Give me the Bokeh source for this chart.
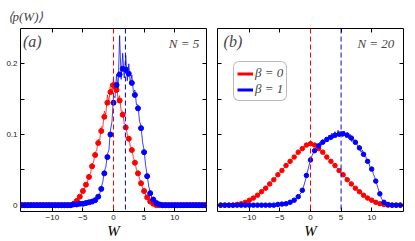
import numpy as np
from bokeh.plotting import figure
from bokeh.layouts import row
from bokeh.models import (FixedTicker, LinearAxis, Range1d, Label, Legend,
                          LegendItem, Span, CustomJSTickFormatter)
from bokeh.embed import file_html
from bokeh.resources import INLINE

# ---------------- data ----------------
# panel (a): N = 5, markers on a 0.5 grid from -15 to 15
W_a = np.arange(-30, 31) * 0.5
red_a = [0, 0, 0, 0, 0, 0, 0, 0, 0, 0, 0, 0, 0, 0, 0, 0, 0,
         0.002, 0.006, 0.012, 0.020, 0.029, 0.040, 0.055, 0.071, 0.088, 0.105,
         0.125, 0.145, 0.160, 0.170, 0.163, 0.148, 0.128, 0.110, 0.094, 0.078,
         0.060, 0.045, 0.031, 0.020, 0.011, 0.005, 0.002,
         0, 0, 0, 0, 0, 0, 0, 0, 0, 0, 0, 0, 0, 0, 0, 0, 0]
blue_a = [0, 0, 0, 0, 0, 0, 0, 0, 0, 0, 0, 0, 0, 0, 0, 0,
          0.000, 0.001, 0.001, 0.002, 0.002, 0.003, 0.004, 0.005, 0.007, 0.012,
          0.023, 0.045, 0.068, 0.100, 0.145, 0.170, 0.185, 0.193, 0.192, 0.186,
          0.173, 0.156, 0.137, 0.109, 0.075, 0.041, 0.017, 0.008, 0.003, 0.001,
          0, 0, 0, 0, 0, 0, 0, 0, 0, 0, 0, 0, 0, 0, 0]

# simulated (noisy) curves, panel (a), 0.25 grid
Wl_red_a = np.arange(-28, 29) * 0.25
line_red_a = [0, 0.001, 0.003, 0.003, 0.007, 0.008, 0.014, 0.015, 0.022, 0.023,
              0.031, 0.033, 0.043, 0.045, 0.058, 0.061, 0.075, 0.077, 0.093, 0.092,
              0.111, 0.110, 0.133, 0.129, 0.156, 0.146, 0.172, 0.158, 0.178, 0.160,
              0.170, 0.150, 0.155, 0.133, 0.133, 0.115, 0.114, 0.099, 0.097, 0.083,
              0.080, 0.067, 0.062, 0.050, 0.046, 0.037, 0.032, 0.024, 0.021, 0.014,
              0.012, 0.007, 0.005, 0.003, 0.002, 0.001, 0]
Wl_blue_a = np.arange(-28, 33) * 0.25
line_blue_a = [0.000, 0.000, 0.001, 0.001, 0.001, 0.001, 0.002, 0.002, 0.002, 0.003,
               0.003, 0.004, 0.004, 0.005, 0.005, 0.006, 0.007, 0.008, 0.013, 0.016,
               0.025, 0.033, 0.048, 0.054, 0.072, 0.078, 0.106, 0.118, 0.155, 0.152,
               0.185, 0.165, 0.240, 0.178, 0.215, 0.180, 0.212, 0.176, 0.200, 0.172,
               0.184, 0.160, 0.163, 0.142, 0.142, 0.119, 0.112, 0.089, 0.078, 0.056,
               0.043, 0.027, 0.018, 0.011, 0.008, 0.005, 0.003, 0.002, 0.001, 0.000,
               0.000]

# panel (b): N = 20, markers on a 2/3 grid
W_b = np.arange(-22, 23) * (2.0 / 3.0)
red_b = [0, 0, 0, 0, 0.001, 0.002, 0.004, 0.007, 0.010, 0.014, 0.019, 0.024,
         0.030, 0.036, 0.043, 0.049, 0.056, 0.062, 0.068, 0.075, 0.080, 0.085,
         0.087,
         0.085, 0.080, 0.075, 0.068, 0.062, 0.056, 0.049, 0.043, 0.036, 0.030,
         0.024, 0.019, 0.014, 0.010, 0.007, 0.004, 0.002, 0.001, 0, 0, 0, 0]
blue_b = [0, 0, 0, 0, 0, 0, 0, 0, 0, 0, 0, 0, 0, 0,
          0.001, 0.0015, 0.002, 0.004, 0.007, 0.012, 0.021, 0.042,
          0.064,
          0.077, 0.084, 0.089, 0.093, 0.096, 0.099, 0.1005, 0.101, 0.099, 0.095,
          0.089, 0.081, 0.072, 0.062, 0.051, 0.034, 0.016, 0.004, 0.001,
          0, 0, 0]
Wl_blue_b = np.arange(-16, 53) * 0.25
line_blue_b = [0.002, 0.003, 0.003, 0.004, 0.005, 0.006, 0.008, 0.010, 0.012, 0.015,
               0.018, 0.023, 0.030, 0.038, 0.047, 0.056, 0.064, 0.070, 0.075, 0.078,
               0.084, 0.081, 0.089, 0.085, 0.093, 0.087, 0.096, 0.090, 0.099, 0.093,
               0.102, 0.095, 0.104, 0.096, 0.106, 0.097, 0.105, 0.097, 0.105, 0.096,
               0.103, 0.094, 0.100, 0.090, 0.096, 0.086, 0.091, 0.081, 0.085, 0.075,
               0.078, 0.068, 0.070, 0.061, 0.061, 0.053, 0.053, 0.045, 0.039, 0.032,
               0.025, 0.018, 0.012, 0.007, 0.004, 0.002, 0.001, 0, 0]

means_a = [0.0, 1.95]
means_b = [0.0, 5.0]
x_ticks = [-10, -5, 0, 5, 10]
y_ticks = [0, 0.1, 0.2]
y_minor = [0.05, 0.15]
RED = "#ff0000"
BLUE = "#0000ff"
SERIF = "Liberation Serif"
SANS = "Liberation Sans"

blank = CustomJSTickFormatter(code="return '';")


def style(p, show_ylabels):
    p.below[0].ticker = FixedTicker(ticks=x_ticks, minor_ticks=[])
    p.left[0].ticker = FixedTicker(ticks=y_ticks, minor_ticks=y_minor)
    p.add_layout(LinearAxis(ticker=FixedTicker(ticks=x_ticks, minor_ticks=[]),
                            formatter=blank), "above")
    p.add_layout(LinearAxis(ticker=FixedTicker(ticks=y_ticks, minor_ticks=y_minor),
                            formatter=blank), "right")
    for ax in p.axis:
        ax.axis_line_color = None
        ax.major_tick_in = 4
        ax.major_tick_out = 0
        ax.minor_tick_in = 4
        ax.minor_tick_out = 0
        ax.major_tick_line_color = "black"
        ax.minor_tick_line_color = "black"
        ax.major_label_text_font = SANS
        ax.major_label_text_font_size = "8px"
        ax.major_label_text_color = "#222222"
        ax.major_label_standoff = 3
    for ax in p.above + p.right:
        ax.major_label_standoff = 0
    if not show_ylabels:
        p.left[0].formatter = blank
        p.left[0].major_label_standoff = 0
    xb = p.below[0]
    xb.axis_label = "W"
    xb.axis_label_text_font = SERIF
    xb.axis_label_text_font_style = "italic"
    xb.axis_label_text_font_size = "15px"
    xb.axis_label_standoff = 0
    xb.axis_label_text_color = "black"
    p.xgrid.visible = False
    p.ygrid.visible = False
    p.outline_line_color = "black"
    p.outline_line_width = 1
    p.outline_line_alpha = 1


common = dict(output_backend="svg", toolbar_location=None, height=241,
              min_border_top=28, min_border_bottom=2)

# ---------------- panel (a) ----------------
pa = figure(width=211, min_border_left=20, min_border_right=5,
            x_range=Range1d(-15.2, 15.2), y_range=Range1d(-0.009, 0.25),
            title="⟨p(W)⟩", **common)
pa.title.text_font = SERIF
pa.title.text_font_style = "italic"
pa.title.text_font_size = "13px"
pa.title.align = "left"
pa.title.offset = -13
pa.title.standoff = 9
style(pa, True)

pa.line(Wl_red_a, line_red_a, color=RED, line_width=1, alpha=0.75)
pa.line(Wl_blue_a, line_blue_a, color=BLUE, line_width=1, alpha=0.75)
pa.scatter(W_a, red_a, size=5, color=RED)
pa.scatter(W_a, blue_a, size=5, color=BLUE)
pa.add_layout(Span(location=means_a[0], dimension="height", line_color=RED,
                   line_dash="5 3", line_width=1))
pa.add_layout(Span(location=means_a[1], dimension="height", line_color=BLUE,
                   line_dash="5 3", line_width=1))
pa.add_layout(Label(x=-14.8, y=0.243, text="(a)", text_font=SERIF,
                    text_font_style="italic", text_font_size="16px",
                    text_baseline="top", text_align="left"))
pa.add_layout(Label(x=14.0, y=0.239, text="N = 5", text_font=SERIF,
                    text_font_style="italic", text_font_size="13px",
                    text_baseline="top", text_align="right"))

# ---------------- panel (b) ----------------
pb = figure(width=200, min_border_left=6, min_border_right=8,
            x_range=Range1d(-15.2, 15.2), y_range=Range1d(-0.009, 0.25),
            **common)
style(pb, False)

pb.line(W_b, red_b, color=RED, line_width=1, alpha=0.75)
pb.line(Wl_blue_b, line_blue_b, color=BLUE, line_width=1, alpha=0.75)
pb.scatter(W_b, red_b, size=4.5, color=RED)
pb.scatter(W_b, blue_b, size=4.5, color=BLUE)
pb.add_layout(Span(location=means_b[0], dimension="height", line_color=RED,
                   line_dash="5 3", line_width=1))
pb.add_layout(Span(location=means_b[1], dimension="height", line_color=BLUE,
                   line_dash="5 3", line_width=1))
pb.add_layout(Label(x=-14.2, y=0.243, text="(b)", text_font=SERIF,
                    text_font_style="italic", text_font_size="16px",
                    text_baseline="top", text_align="left"))
pb.add_layout(Label(x=13.7, y=0.239, text="N = 20", text_font=SERIF,
                    text_font_style="italic", text_font_size="13px",
                    text_baseline="top", text_align="right"))

# legend-only renderers (no visible data)
leg_red = pb.line([np.nan], [np.nan], color=RED, line_width=3)
leg_blue = pb.line([np.nan], [np.nan], color=BLUE, line_width=3)
legend = Legend(items=[LegendItem(label="β = 0", renderers=[leg_red]),
                       LegendItem(label="β = 1", renderers=[leg_blue])],
                location=(16, 110))
legend.label_text_font = SERIF
legend.label_text_font_style = "italic"
legend.label_text_font_size = "13px"
legend.label_height = 13
legend.glyph_height = 13
legend.glyph_width = 16
legend.label_standoff = 2
legend.spacing = 0
legend.padding = 3
legend.margin = 0
legend.border_line_color = "#777777"
legend.border_line_width = 1
legend.background_fill_color = "white"
legend.background_fill_alpha = 1
if "border_radius" in Legend.properties():
    legend.border_radius = 6
pb.add_layout(legend, "center")

layout = row(pa, pb)
open("out.html", "w").write(file_html(layout, INLINE))
